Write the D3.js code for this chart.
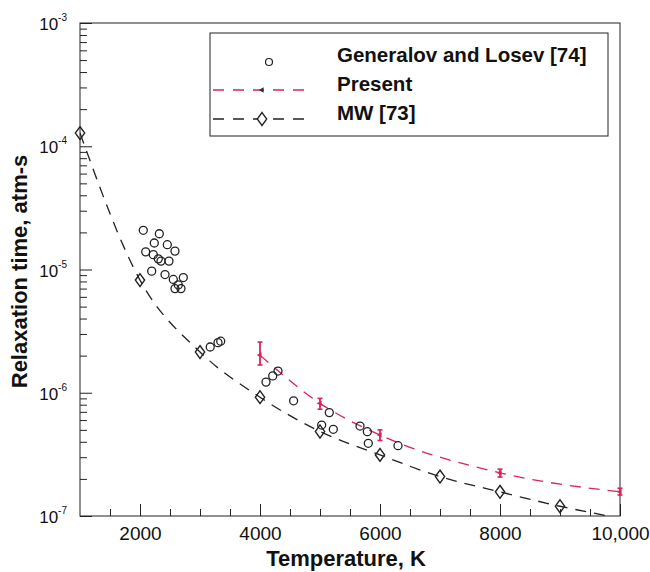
<!DOCTYPE html>
<html>
<head>
<meta charset="utf-8">
<script src="https://cdn.jsdelivr.net/npm/d3@7"></script>
<style>
  html, body { margin: 0; padding: 0; background: #fff; }
  svg { display: block; font-family: "Liberation Sans", Arial, Helvetica, sans-serif; }
</style>
</head>
<body>
<svg id="chart" width="650" height="572"></svg>
<script>
// Generalov and Losev [74] measurements (temperature K, relaxation time atm-s)
const glTemp = [2055, 2322, 2238, 2455, 2583, 2095, 2222, 2305, 2350, 2483, 2195, 2417, 2555, 2722, 2638, 2583, 2683,
                3170, 3300, 3345, 4100, 4212, 4300, 4560, 5155, 5028, 5222, 5667, 5789, 5805, 6300];
const glTau  = [2.08e-5, 1.95e-5, 1.64e-5, 1.59e-5, 1.41e-5, 1.39e-5, 1.32e-5, 1.22e-5, 1.17e-5, 1.17e-5, 9.7e-6, 9.1e-6, 8.3e-6, 8.6e-6, 7.5e-6, 7.0e-6, 7.0e-6,
                2.35e-6, 2.55e-6, 2.62e-6, 1.22e-6, 1.37e-6, 1.50e-6, 8.6e-7, 6.9e-7, 5.47e-7, 5.05e-7, 5.37e-7, 4.83e-7, 3.89e-7, 3.72e-7];

// MW [73] correlation: symbols and the dashed curve
const mwTemp = [1000, 2000, 3000, 4000, 5000, 6000, 7000, 8000, 9000];
const mwTau  = [1.28e-4, 8.2e-6, 2.14e-6, 9.2e-7, 4.85e-7, 3.13e-7, 2.09e-7, 1.57e-7, 1.2e-7];
const mwCurveTemp = [1000, 2000, 3000, 4000, 5000, 6000, 7000, 8000, 9000, 10000];
const mwCurveTau  = [1.28e-4, 8.2e-6, 2.14e-6, 9.2e-7, 4.85e-7, 3.13e-7, 2.09e-7, 1.57e-7, 1.2e-7, 9.6e-8];

// Present results with error bounds
const presTemp = [4000, 5000, 6000, 8000, 10000];
const presTau  = [2.02e-6, 8.2e-7, 4.54e-7, 2.24e-7, 1.57e-7];
const presLow  = [1.68e-6, 7.35e-7, 4.1e-7, 2.07e-7, 1.48e-7];
const presHigh = [2.58e-6, 9.0e-7, 5.0e-7, 2.4e-7, 1.68e-7];

// Axis ticks and labels
const xTickValues = [2000, 4000, 6000, 8000, 10000];
const xTickLabels = ["2000", "4000", "6000", "8000", "10,000"];
const yDecades   = [1e-7, 1e-6, 1e-5, 1e-4, 1e-3];
const yDecadeExp = ["-7", "-6", "-5", "-4", "-3"];
const legendLabels = ["Generalov and Losev [74]", "Present", "MW [73]"];

const RED = "#d8245a";
const INK = "#222";

const svg = d3.select("#chart");
const L = 80, R = 620, T = 23, B = 516;

const x = d3.scaleLinear().domain([1000, 10000]).range([L, R]);
const y = d3.scaleLog().domain([1e-7, 1e-3]).range([B, T]);

svg.append("rect").attr("width", 650).attr("height", 572).attr("fill", "#fff");

svg.append("defs").append("clipPath").attr("id", "plotClip")
  .append("rect").attr("x", L).attr("y", T).attr("width", R - L).attr("height", B - T);

// ---- X axis (ticks point into the plot) ----
const xMinor = d3.range(1500, 10001, 500).filter(v => !xTickValues.includes(v));
const gxMinor = svg.append("g").attr("transform", `translate(0,${B})`)
  .call(d3.axisBottom(x).tickValues(xMinor).tickSize(-7).tickFormat(""));
const gxMajor = svg.append("g").attr("transform", `translate(0,${B})`)
  .call(d3.axisBottom(x).tickValues(xTickValues).tickSize(-12).tickPadding(11)
    .tickFormat((d, i) => xTickLabels[i]));
[gxMinor, gxMajor].forEach(g => {
  g.select(".domain").remove();
  g.selectAll(".tick line").attr("stroke", INK).attr("stroke-width", 1);
});
gxMajor.selectAll(".tick text")
  .attr("fill", "#111").style("font-size", "19px");

// ---- Y axis ----
const yMinor = [];
yDecades.slice(0, -1).forEach(d => { for (let k = 2; k <= 9; k++) yMinor.push(k * d); });
const gyMinor = svg.append("g").attr("transform", `translate(${L},0)`)
  .call(d3.axisLeft(y).tickValues(yMinor).tickSize(-7).tickFormat(""));
const gyMajor = svg.append("g").attr("transform", `translate(${L},0)`)
  .call(d3.axisLeft(y).tickValues(yDecades).tickSize(-12).tickFormat(""));
[gyMinor, gyMajor].forEach(g => {
  g.select(".domain").remove();
  g.selectAll(".tick line").attr("stroke", INK).attr("stroke-width", 1);
});

// decade labels written as 10 with a raised exponent
yDecades.forEach((d, i) => {
  const t = svg.append("text")
    .attr("x", 67).attr("y", y(d) + 7)
    .attr("text-anchor", "end")
    .attr("fill", "#111")
    .style("font-size", "17px");
  t.append("tspan").text("10");
  t.append("tspan").attr("dy", -9).style("font-size", "10px").text(yDecadeExp[i]);
});

// frame
svg.append("rect")
  .attr("x", L).attr("y", T).attr("width", R - L).attr("height", B - T)
  .attr("fill", "none").attr("stroke", INK).attr("stroke-width", 1);

// ---- Axis titles ----
svg.append("text")
  .attr("x", (L + R) / 2 - 4).attr("y", 566)
  .attr("text-anchor", "middle")
  .attr("fill", "#111").attr("font-weight", "bold")
  .style("font-size", "22px")
  .text("Temperature, K");

svg.append("text")
  .attr("transform", `translate(27,${(T + B) / 2 + 2}) rotate(-90)`)
  .attr("text-anchor", "middle")
  .attr("fill", "#111").attr("font-weight", "bold")
  .style("font-size", "22px")
  .text("Relaxation time, atm-s");

// ---- Curves ----
const plot = svg.append("g").attr("clip-path", "url(#plotClip)");

const line = d3.line()
  .x(d => x(d[0])).y(d => y(d[1]))
  .curve(d3.curveMonotoneX);

plot.append("path")
  .datum(mwCurveTemp.map((t, i) => [t, mwCurveTau[i]]))
  .attr("d", line)
  .attr("fill", "none").attr("stroke", "#222")
  .attr("stroke-width", 1.3).attr("stroke-dasharray", "11,8");

plot.append("path")
  .datum(presTemp.map((t, i) => [t, presTau[i]]))
  .attr("d", line)
  .attr("fill", "none").attr("stroke", RED)
  .attr("stroke-width", 1.3).attr("stroke-dasharray", "11,8");

// ---- Symbols ----
const diamond = d3.symbol().type(d3.symbolDiamond).size(48);

svg.append("g").selectAll("path")
  .data(mwTemp.map((t, i) => [t, mwTau[i]]))
  .join("path")
  .attr("d", diamond)
  .attr("transform", d => `translate(${x(d[0])},${y(d[1])}) scale(1.25,1)`)
  .attr("fill", "none").attr("stroke", "#222").attr("stroke-width", 1.2);

svg.append("g").selectAll("circle")
  .data(glTemp.map((t, i) => [t, glTau[i]]))
  .join("circle")
  .attr("cx", d => x(d[0])).attr("cy", d => y(d[1]))
  .attr("r", 4)
  .attr("fill", "none").attr("stroke", "#222").attr("stroke-width", 1.3);

// Present: error bars with a small marker
const pres = svg.append("g");
presTemp.forEach((t, i) => {
  const cx = x(t), yl = y(presLow[i]), yh = y(presHigh[i]);
  pres.append("line").attr("x1", cx).attr("x2", cx).attr("y1", yl).attr("y2", yh)
    .attr("stroke", RED).attr("stroke-width", 1.8);
  [yl, yh].forEach(yy => pres.append("line")
    .attr("x1", cx - 2.5).attr("x2", cx + 2.5).attr("y1", yy).attr("y2", yy)
    .attr("stroke", RED).attr("stroke-width", 1.6));
  pres.append("path")
    .attr("d", d3.symbol().type(d3.symbolTriangle).size(14)())
    .attr("transform", `translate(${cx},${y(presTau[i])}) rotate(-90)`)
    .attr("fill", RED);
});

// ---- Legend ----
const lg = svg.append("g");
lg.append("rect")
  .attr("x", 210).attr("y", 33).attr("width", 398).attr("height", 103)
  .attr("fill", "#fff").attr("stroke", INK).attr("stroke-width", 1);

const rowText = [62, 91, 120];
const rowSym = [62, 90, 119];
legendLabels.forEach((lab, i) => {
  lg.append("text").attr("x", 337).attr("y", rowText[i])
    .attr("fill", "#111").attr("font-weight", "bold")
    .style("font-size", "20.5px").text(lab);
});

lg.append("circle").attr("cx", 269).attr("cy", rowSym[0]).attr("r", 3.5)
  .attr("fill", "none").attr("stroke", "#222").attr("stroke-width", 1.2);

lg.append("line").attr("x1", 213).attr("x2", 312).attr("y1", rowSym[1]).attr("y2", rowSym[1])
  .attr("stroke", RED).attr("stroke-width", 1.3).attr("stroke-dasharray", "11,9");
lg.append("path")
  .attr("d", d3.symbol().type(d3.symbolTriangle).size(14)())
  .attr("transform", `translate(262,${rowSym[1]}) rotate(-90)`)
  .attr("fill", "#333");

lg.append("line").attr("x1", 213).attr("x2", 312).attr("y1", rowSym[2]).attr("y2", rowSym[2])
  .attr("stroke", "#222").attr("stroke-width", 1.3).attr("stroke-dasharray", "11,9");
lg.append("path")
  .attr("d", diamond)
  .attr("transform", `translate(262,${rowSym[2]}) scale(1.25,1)`)
  .attr("fill", "#fff").attr("stroke", "#222").attr("stroke-width", 1.2);
</script>
</body>
</html>
